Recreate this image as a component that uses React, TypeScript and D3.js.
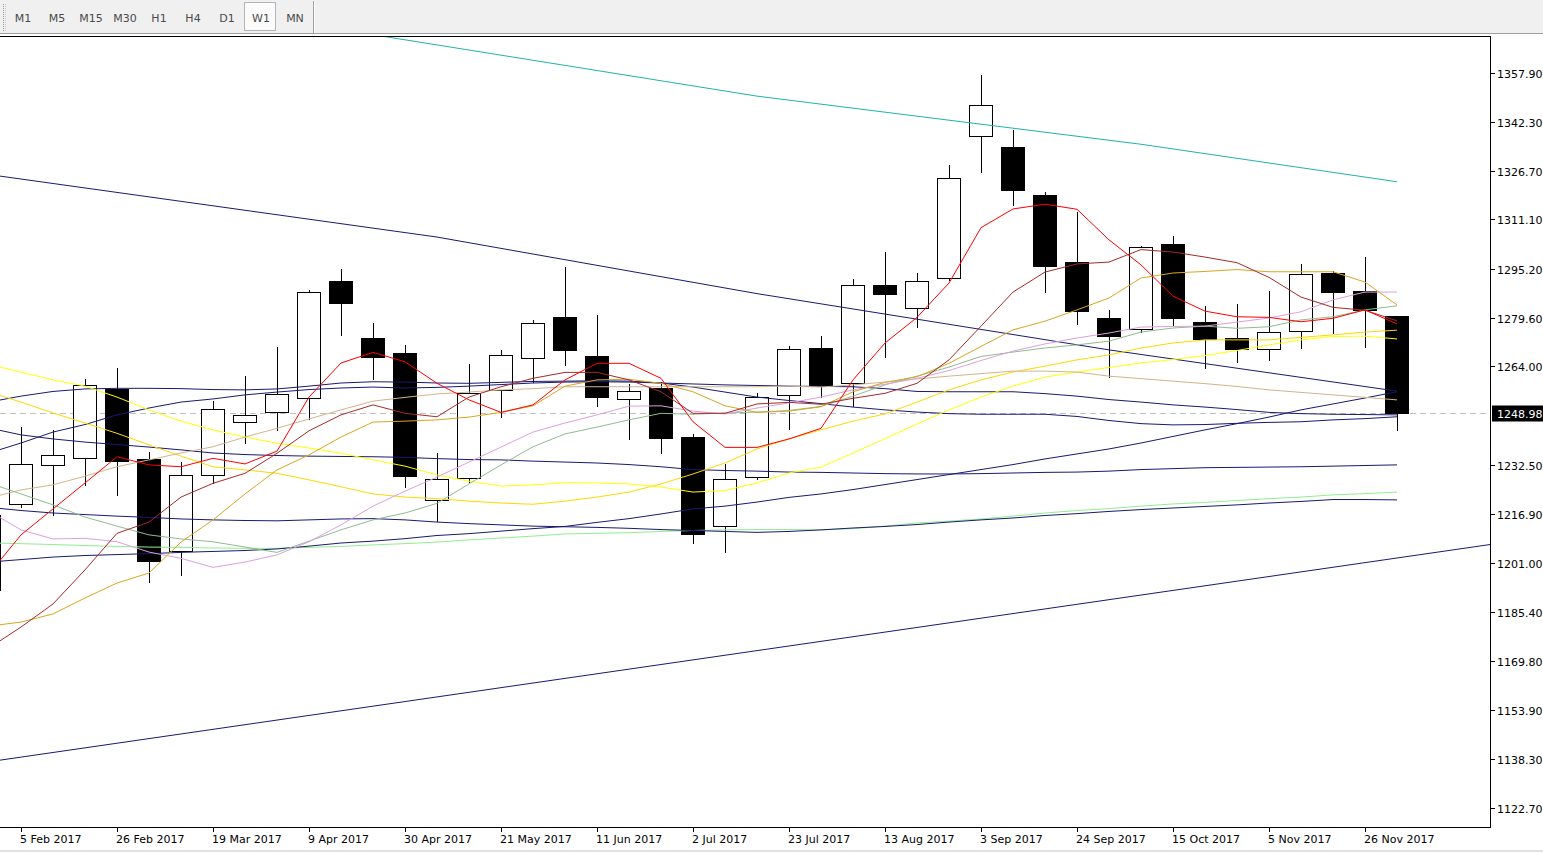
import React from 'react';
import * as d3 from 'd3';

const W = 1543;
const H = 853;

// toolbar
const tfButtons = ['M1', 'M5', 'M15', 'M30', 'H1', 'H4', 'D1', 'W1', 'MN'];
const activeTf = 'W1';

// weekly bars, 29 Jan 2017 .. 3 Dec 2017
const dateTickIdx = [1, 4, 7, 10, 13, 16, 19, 22, 25, 28, 31, 34, 37, 40, 43];
const dateTicks = [
  '5 Feb 2017', '26 Feb 2017', '19 Mar 2017', '9 Apr 2017', '30 Apr 2017',
  '21 May 2017', '11 Jun 2017', '2 Jul 2017', '23 Jul 2017', '13 Aug 2017',
  '3 Sep 2017', '24 Sep 2017', '15 Oct 2017', '5 Nov 2017', '26 Nov 2017',
];
const priceTicks = [
  1357.9, 1342.3, 1326.7, 1311.1, 1295.2, 1279.6, 1264.0,
  1232.5, 1216.9, 1201.0, 1185.4, 1169.8, 1153.9, 1138.3, 1122.7,
];
const lastPrice = 1248.98;

const open = [
  1192.5, 1219.9, 1232.4, 1234.6, 1256.8, 1234.4, 1204.8, 1229.2, 1246.1, 1249.3,
  1253.8, 1291.3, 1273.1, 1268.2, 1221.2, 1228.2, 1256.6, 1266.6, 1279.8, 1267.3,
  1253.5, 1257.2, 1241.4, 1212.8, 1228.5, 1254.8, 1269.9, 1258.6, 1290.0, 1282.6,
  1292.2, 1337.6, 1334.1, 1318.9, 1297.4, 1279.5, 1275.9, 1303.2, 1278.1, 1273.0,
  1269.5, 1275.2, 1293.9, 1288.1, 1280.1,
];
const high = [
  1218.0, 1244.5, 1243.6, 1259.9, 1263.5, 1236.6, 1233.3, 1252.9, 1260.9, 1270.2,
  1288.5, 1295.2, 1277.9, 1270.9, 1236.2, 1264.8, 1269.3, 1278.9, 1295.8, 1280.5,
  1258.4, 1259.1, 1242.4, 1232.7, 1255.4, 1270.5, 1273.7, 1292.0, 1300.5, 1293.9,
  1328.4, 1357.3, 1339.6, 1319.8, 1313.4, 1282.1, 1302.5, 1305.7, 1283.3, 1284.0,
  1288.1, 1296.8, 1294.5, 1299.0, 1280.3,
];
const low = [
  1190.0, 1218.8, 1216.2, 1225.8, 1222.6, 1194.6, 1197.0, 1226.3, 1239.3, 1243.4,
  1246.8, 1273.8, 1259.7, 1225.2, 1214.2, 1226.6, 1247.6, 1258.6, 1264.1, 1251.1,
  1240.6, 1236.1, 1207.1, 1204.4, 1227.8, 1243.7, 1253.8, 1251.1, 1266.8, 1276.4,
  1291.4, 1326.0, 1315.4, 1287.6, 1277.3, 1260.2, 1274.8, 1276.9, 1263.3, 1265.2,
  1265.8, 1269.7, 1274.5, 1270.0, 1243.4,
];
const close = [
  1216.5, 1232.7, 1235.6, 1258.0, 1233.8, 1201.8, 1229.2, 1250.3, 1248.4, 1255.1,
  1287.7, 1284.4, 1267.1, 1229.0, 1228.0, 1255.5, 1267.6, 1277.8, 1269.4, 1254.3,
  1256.0, 1241.2, 1210.5, 1228.0, 1254.1, 1269.5, 1258.2, 1290.0, 1287.3, 1291.2,
  1324.2, 1347.6, 1320.6, 1296.2, 1281.8, 1273.8, 1302.1, 1279.6, 1272.9, 1269.7,
  1274.9, 1293.5, 1287.9, 1282.0, 1248.98,
];

// moving averages, one value per bar
const maRed = [
  1197.6, 1210.1, 1218.4, 1226.7, 1235.1, 1232.5, 1231.9, 1234.6, 1232.8, 1236.9,
  1254.2, 1265.1, 1268.5, 1265.5, 1258.6, 1253.3, 1249.3, 1251.7, 1259.7, 1265.0,
  1265.0, 1260.2, 1246.3, 1238.1, 1238.1, 1240.8, 1244.2, 1259.7, 1271.5, 1279.7,
  1290.7, 1308.4, 1314.4, 1315.9, 1314.3, 1304.5, 1296.5, 1286.5, 1281.7, 1279.9,
  1279.7, 1278.3, 1279.4, 1282.1, 1277.6,
];
const maBrown = [
  1173.9, 1180.6, 1188.0, 1198.9, 1210.6, 1214.2, 1222.2, 1226.6, 1229.8, 1236.2,
  1243.4, 1248.5, 1251.7, 1249.0, 1247.9, 1254.2, 1257.5, 1260.2, 1262.1, 1262.1,
  1259.7, 1255.9, 1249.0, 1249.0, 1252.0, 1252.5, 1251.9, 1253.8, 1255.4, 1258.6,
  1266.1, 1276.9, 1287.8, 1294.2, 1296.8, 1297.4, 1301.4, 1300.6, 1299.0, 1297.2,
  1292.5, 1286.2, 1282.9, 1282.0, 1278.6,
];
const maGoldenrod = [
  1180.9, 1182.2, 1184.8, 1189.9, 1194.7, 1197.9, 1207.8, 1214.9, 1223.2, 1230.9,
  1235.7, 1241.4, 1246.2, 1246.5, 1246.9, 1247.8, 1249.3, 1251.4, 1257.7, 1259.7,
  1259.9, 1258.6, 1255.9, 1251.4, 1249.3, 1249.7, 1251.1, 1255.9, 1258.9, 1260.7,
  1265.0, 1270.4, 1275.7, 1278.5, 1282.1, 1285.9, 1292.3, 1293.9, 1294.4, 1295.0,
  1294.3, 1294.3, 1294.3, 1291.0, 1283.7,
];
const maTan = [
  1221.9, 1224.5, 1226.1, 1228.9, 1231.9, 1234.1, 1236.3, 1238.3, 1241.4, 1244.2,
  1247.2, 1250.1, 1252.9, 1254.1, 1255.2, 1255.8, 1256.5, 1256.9, 1257.5, 1257.5,
  1257.5, 1257.5, 1257.5, 1257.5, 1257.5, 1257.7, 1257.4, 1258.1, 1259.0, 1260.0,
  1260.9, 1261.7, 1262.5, 1262.5, 1262.2, 1260.9, 1260.1, 1259.3, 1258.5, 1257.6,
  1256.5, 1255.7, 1254.9, 1254.1, 1253.3,
];
const maPlum = [
  1217.7, 1211.7, 1208.8, 1209.0, 1207.9, 1204.6, 1202.6, 1199.7, 1201.4, 1203.7,
  1207.9, 1213.3, 1219.3, 1224.1, 1228.6, 1233.4, 1238.2, 1243.0, 1245.9, 1248.5,
  1251.3, 1251.4, 1249.7, 1248.8, 1250.7, 1252.3, 1254.2, 1256.5, 1258.3, 1260.2,
  1262.7, 1265.9, 1268.9, 1271.2, 1273.1, 1274.7, 1276.6, 1276.8, 1276.9, 1278.2,
  1279.5, 1281.5, 1285.3, 1287.8, 1287.8,
];
const maSeaGreen = [
  1226.7, 1223.2, 1219.7, 1215.8, 1212.9, 1210.1, 1208.8, 1207.9, 1206.2, 1204.5,
  1208.1, 1211.7, 1214.9, 1217.1, 1220.2, 1226.4, 1232.5, 1238.3, 1242.4, 1244.6,
  1246.9, 1249.0, 1248.7, 1249.1, 1249.4, 1249.9, 1251.2, 1254.5, 1258.1, 1260.9,
  1263.8, 1267.2, 1268.6, 1269.9, 1270.9, 1272.1, 1275.0, 1276.3, 1276.9, 1276.2,
  1276.7, 1278.9, 1279.9, 1282.1, 1283.4,
];
const maLightGreen = [
  1207.5, 1207.3, 1207.0, 1206.7, 1206.4, 1206.2, 1206.1, 1205.9, 1205.8, 1205.8,
  1206.1, 1206.4, 1206.9, 1207.3, 1207.8, 1208.5, 1209.1, 1209.7, 1210.4, 1210.6,
  1210.8, 1211.2, 1211.5, 1211.7, 1211.8, 1211.8, 1211.7, 1212.1, 1212.9, 1213.9,
  1214.5, 1215.2, 1216.1, 1217.1, 1217.9, 1218.5, 1219.3, 1220.0, 1220.5, 1221.1,
  1221.7, 1222.2, 1222.9, 1223.3, 1223.8,
];
const maYellow = [
  1264.6, 1262.2, 1259.7, 1257.7, 1254.2, 1250.1, 1246.5, 1243.7, 1241.4, 1239.4,
  1237.9, 1236.2, 1234.1, 1232.1, 1229.3, 1227.3, 1225.7, 1226.1, 1226.8, 1226.7,
  1226.4, 1225.4, 1223.8, 1224.3, 1226.7, 1229.9, 1231.8, 1236.3, 1240.9, 1245.6,
  1250.1, 1254.2, 1257.7, 1260.6, 1262.2, 1263.7, 1265.1, 1266.2, 1267.5, 1269.1,
  1270.9, 1272.5, 1273.6, 1273.7, 1272.8,
];
const maGold = [
  1255.8, 1252.6, 1249.1, 1245.9, 1242.6, 1238.9, 1235.3, 1231.9, 1230.9, 1229.8,
  1227.7, 1225.5, 1223.2, 1222.2, 1221.7, 1220.9, 1220.3, 1219.9, 1220.9, 1222.2,
  1223.8, 1226.4, 1229.6, 1233.1, 1237.6, 1240.8, 1243.7, 1246.5, 1248.8, 1252.6,
  1256.5, 1259.7, 1262.2, 1264.1, 1266.1, 1267.7, 1269.9, 1271.5, 1272.5, 1272.5,
  1272.5, 1273.3, 1274.1, 1275.0, 1275.6,
];
const maNavy1 = [
  1252.6, 1254.5, 1256.0, 1256.8, 1257.0, 1257.0, 1256.9, 1256.6, 1256.5, 1256.8,
  1257.7, 1258.7, 1259.1, 1259.0, 1258.7, 1258.6, 1258.9, 1259.2, 1259.3, 1259.4,
  1259.3, 1258.7, 1258.4, 1258.1, 1257.9, 1257.7, 1257.6, 1257.5, 1256.9, 1256.0,
  1255.9, 1255.9, 1255.9, 1255.3, 1254.5, 1253.4, 1252.6, 1251.7, 1251.0, 1250.2,
  1249.3, 1248.9, 1248.7, 1248.6, 1248.5,
];
const maNavy2 = [
  1236.3, 1239.5, 1243.0, 1245.4, 1248.5, 1250.7, 1252.6, 1253.6, 1254.9, 1255.8,
  1256.6, 1257.1, 1257.4, 1257.1, 1257.3, 1257.7, 1258.2, 1258.7, 1259.0, 1259.1,
  1259.0, 1258.7, 1257.4, 1255.8, 1254.2, 1253.1, 1252.1, 1251.0, 1250.1, 1249.4,
  1248.9, 1248.7, 1248.7, 1248.7, 1248.0, 1246.7, 1245.7, 1245.3, 1245.4, 1245.8,
  1246.1, 1246.3, 1246.9, 1247.3, 1247.9,
];
const maNavy3 = [
  1244.3, 1242.1, 1240.8, 1239.8, 1239.0, 1238.2, 1237.3, 1236.3, 1235.8, 1235.5,
  1235.3, 1235.2, 1235.1, 1234.9, 1234.5, 1234.2, 1234.1, 1233.7, 1233.4, 1233.1,
  1232.6, 1231.9, 1231.0, 1230.7, 1230.5, 1230.2, 1230.1, 1229.9, 1229.7, 1229.6,
  1229.6, 1229.7, 1229.9, 1230.1, 1230.2, 1230.5, 1231.0, 1231.3, 1231.6, 1231.7,
  1231.8, 1231.9, 1232.1, 1232.3, 1232.5,
];
const maNavy4 = [
  1218.9, 1217.9, 1217.1, 1216.6, 1216.1, 1215.7, 1215.2, 1214.9, 1214.7, 1214.6,
  1214.9, 1215.2, 1215.3, 1214.9, 1214.2, 1213.7, 1213.3, 1212.9, 1212.7, 1212.5,
  1212.2, 1211.8, 1211.5, 1211.2, 1210.9, 1211.2, 1211.7, 1212.3, 1212.8, 1213.4,
  1214.2, 1214.9, 1215.5, 1216.3, 1216.9, 1217.6, 1218.2, 1218.7, 1219.2, 1219.7,
  1220.3, 1220.8, 1221.4, 1221.4, 1221.3,
];
const maNavy5 = [
  1201.4, 1202.2, 1203.0, 1203.5, 1203.8, 1204.1, 1204.5, 1204.8, 1205.1, 1205.6,
  1206.5, 1207.5, 1208.1, 1208.9, 1209.9, 1210.5, 1211.3, 1212.1, 1212.8, 1214.1,
  1215.3, 1216.8, 1218.4, 1219.3, 1220.6, 1222.1, 1223.2, 1224.6, 1226.2, 1227.8,
  1229.4, 1231.0, 1232.6, 1234.4, 1236.0, 1237.6, 1239.5, 1241.6, 1243.7, 1245.7,
  1247.8, 1250.1, 1252.0, 1253.9, 1255.9,
];

// slow averages read at a few bars
const tealIdx = [11, 24, 36, 44];
const tealVal = [1371.8, 1350.5, 1335.1, 1323.1];
const navyLongIdx = [0, 14, 24, 35, 44];
const navyLongVal = [1325.4, 1305.4, 1287.3, 1269.3, 1256.1];

// trend line anchors (bar index, price), drawn as a ray to the right
const trendIdx = [0, 44];
const trendPrice = [1137.5, 1202.7];

const NAVY = '#191970';

const maSeries: { values: number[]; color: string }[] = [
  { values: maLightGreen, color: '#90ee90' },
  { values: maNavy5, color: NAVY },
  { values: maNavy4, color: NAVY },
  { values: maNavy3, color: NAVY },
  { values: maNavy2, color: NAVY },
  { values: maNavy1, color: NAVY },
  { values: maGold, color: '#ffd700' },
  { values: maYellow, color: '#ffff00' },
  { values: maTan, color: '#d2b48c' },
  { values: maSeaGreen, color: '#8fbc8f' },
  { values: maPlum, color: '#dda0dd' },
  { values: maGoldenrod, color: '#daa520' },
  { values: maBrown, color: '#a52a2a' },
  { values: maRed, color: '#ff0000' },
];

const FONT = '"DejaVu Sans", Verdana, sans-serif';

const App: React.FC = () => {
  const plot = { left: 0, top: 37, right: 1490, bottom: 828 };
  const barStep = 32;
  const lastBarX = 1397;

  const x = d3
    .scaleLinear()
    .domain([0, close.length - 1])
    .range([lastBarX - barStep * (close.length - 1), lastBarX]);

  const y = d3.scaleLinear().domain([1122.7, 1357.9]).range([808, 73]);

  const px = (v: number) => Math.round(v);

  const maLine = d3
    .line<number>()
    .x((_, i) => x(i))
    .y((d) => y(d));

  const sparseLine = d3
    .line<[number, number]>()
    .x((d) => x(d[0]))
    .y((d) => y(d[1]));

  const tealPts = tealIdx.map((d, i) => [d, tealVal[i]] as [number, number]);
  const navyLongPts = navyLongIdx.map((d, i) => [d, navyLongVal[i]] as [number, number]);

  const trendSlope = (trendPrice[1] - trendPrice[0]) / (trendIdx[1] - trendIdx[0]);
  const trendEndIdx = x.invert(plot.right);
  const trendPts: [number, number][] = [
    [trendIdx[0], trendPrice[0]],
    [trendEndIdx, trendPrice[0] + trendSlope * (trendEndIdx - trendIdx[0])],
  ];

  const yLast = px(y(lastPrice)) + 0.5;

  return (
    <div style={{ position: 'absolute', left: 0, top: 0 }}>
      <svg width={W} height={H} style={{ display: 'block', background: '#ffffff' }}>
        <defs>
          <clipPath id="plot-clip">
            <rect x={plot.left} y={plot.top} width={plot.right - plot.left} height={plot.bottom - plot.top} />
          </clipPath>
        </defs>

        {/* toolbar */}
        <rect x={0} y={0} width={W} height={34} fill="#f0f0f0" />
        <line x1={0} x2={W} y1={33.5} y2={33.5} stroke="#a0a0a0" />
        <line x1={3.5} x2={3.5} y1={4} y2={31} stroke="#9a9a9a" strokeDasharray="1,1" />
        <line x1={5.5} x2={5.5} y1={4} y2={31} stroke="#c8c8c8" strokeDasharray="1,1" />
        {tfButtons.map((b, i) => {
          const cx = 23 + i * 34;
          const active = b === activeTf;
          return (
            <g key={b}>
              {active && (
                <rect x={cx - 16.5} y={2.5} width={31} height={28} fill="#fbfbfb" stroke="#b4b4b4" />
              )}
              <text
                x={cx}
                y={21.5}
                textAnchor="middle"
                fontFamily={FONT}
                fontSize={11}
                fill="#4a4a4a"
              >
                {b}
              </text>
            </g>
          );
        })}
        <line x1={313.5} x2={313.5} y1={1} y2={33} stroke="#a0a0a0" />
        <line x1={314.5} x2={314.5} y1={1} y2={33} stroke="#ffffff" />

        {/* bid line */}
        <line
          x1={plot.left}
          x2={plot.right}
          y1={yLast}
          y2={yLast}
          stroke="#c0c0c0"
          strokeDasharray="6,4"
          shapeRendering="crispEdges"
        />

        <g clipPath="url(#plot-clip)">
          {/* candles */}
          {close.map((c, i) => {
            const cx = px(x(i)) + 0.5;
            const o = open[i];
            const bull = c >= o;
            const yTop = px(y(Math.max(o, c)));
            const yBot = px(y(Math.min(o, c)));
            return (
              <g key={i} shapeRendering="crispEdges">
                <line x1={cx} x2={cx} y1={px(y(high[i]))} y2={px(y(low[i]))} stroke="#000" />
                {bull ? (
                  <rect
                    x={cx - 12}
                    y={yTop + 0.5}
                    width={23}
                    height={Math.max(1, yBot - yTop)}
                    fill="#ffffff"
                    stroke="#000"
                  />
                ) : (
                  <rect
                    x={cx - 12.5}
                    y={yTop}
                    width={24}
                    height={Math.max(1, yBot - yTop + 1)}
                    fill="#000"
                  />
                )}
              </g>
            );
          })}

          {/* indicators */}
          <path d={sparseLine(tealPts) ?? ''} fill="none" stroke="#20b2aa" strokeWidth={1} />
          <path d={sparseLine(navyLongPts) ?? ''} fill="none" stroke={NAVY} strokeWidth={1} />
          <path d={sparseLine(trendPts) ?? ''} fill="none" stroke={NAVY} strokeWidth={1} />
          {maSeries.map((s, k) => (
            <path key={k} d={maLine(s.values) ?? ''} fill="none" stroke={s.color} strokeWidth={1} />
          ))}
        </g>

        {/* frame */}
        <g shapeRendering="crispEdges">
          <line x1={plot.left} x2={plot.right} y1={plot.top - 0.5} y2={plot.top - 0.5} stroke="#000" />
          <line x1={plot.right + 0.5} x2={plot.right + 0.5} y1={plot.top - 1} y2={plot.bottom} stroke="#000" />
          <line x1={plot.left} x2={plot.right + 1} y1={plot.bottom - 0.5} y2={plot.bottom - 0.5} stroke="#000" />
          <line x1={0} x2={W} y1={850.5} y2={850.5} stroke="#e2e2e2" strokeWidth={2} />
        </g>

        {/* price axis */}
        <g fontFamily={FONT} fontSize={11} fill="#000">
          {priceTicks.map((t) => {
            const ty = px(y(t)) + 0.5;
            return (
              <g key={t}>
                <line x1={plot.right + 1} x2={plot.right + 5} y1={ty} y2={ty} stroke="#000" shapeRendering="crispEdges" />
                <text x={plot.right + 7} y={ty + 4}>
                  {t.toFixed(2)}
                </text>
              </g>
            );
          })}
          <rect x={plot.right + 2} y={yLast - 8} width={W - plot.right - 2} height={16} fill="#000" />
          <text x={plot.right + 7} y={yLast + 4} fill="#ffffff">
            {lastPrice.toFixed(2)}
          </text>
        </g>

        {/* time axis */}
        <g fontFamily={FONT} fontSize={11} fill="#000">
          {dateTickIdx.map((idx, k) => {
            const tx = px(x(idx)) + 0.5;
            return (
              <g key={idx}>
                <line x1={tx} x2={tx} y1={plot.bottom} y2={plot.bottom + 4} stroke="#000" shapeRendering="crispEdges" />
                <text x={tx - 1.5} y={842.5}>
                  {dateTicks[k]}
                </text>
              </g>
            );
          })}
        </g>
      </svg>
    </div>
  );
};

export default App;
